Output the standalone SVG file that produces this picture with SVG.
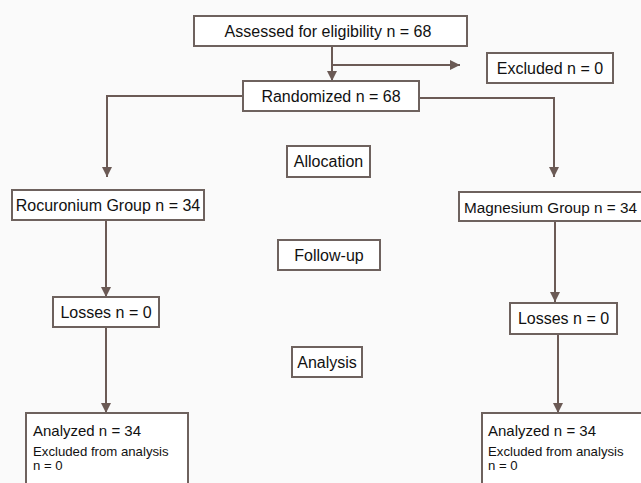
<svg xmlns="http://www.w3.org/2000/svg" width="641" height="483" viewBox="0 0 641 483">
<defs>
<marker id="ah" markerWidth="10" markerHeight="12" refX="10" refY="5" orient="auto" markerUnits="userSpaceOnUse">
<path d="M0,0 L10,5 L0,10 Z" fill="#6b5a55"/>
</marker>
<style>
.box{fill:#ffffff;stroke:#6e625e;stroke-width:2}
.t{font-family:"Liberation Sans",Arial,sans-serif;font-size:16px;fill:#111111}
.a{font-family:"Liberation Sans",Arial,sans-serif;font-size:15px;fill:#111111}
.s{font-family:"Liberation Sans",Arial,sans-serif;font-size:13.2px;fill:#111111}
.c{fill:none;stroke:#6b5a55;stroke-width:2}
</style>
</defs>
<rect width="641" height="483" fill="#fafafa"/>
<g id="connectors">
<path class="c" d="M332,46 V81" marker-end="url(#ah)"/>
<path class="c" d="M332,65 H460" marker-end="url(#ah)"/>
<path class="c" d="M243,96 H107 V177" marker-end="url(#ah)"/>
<path class="c" d="M419,98 H554 V177" marker-end="url(#ah)"/>
<path class="c" d="M106,220 V297" marker-end="url(#ah)"/>
<path class="c" d="M555,221 V302" marker-end="url(#ah)"/>
<path class="c" d="M106,327 V413" marker-end="url(#ah)"/>
<path class="c" d="M558,334 V413" marker-end="url(#ah)"/>
</g>
<g id="assessed"><rect class="box" x="194" y="16" width="273" height="30"/><text class="t" x="328" y="37" text-anchor="middle">Assessed for eligibility n = 68</text></g>
<g id="excluded"><rect class="box" x="487" y="53" width="126" height="30"/><text class="t" x="550" y="74" text-anchor="middle">Excluded n = 0</text></g>
<g id="randomized"><rect class="box" x="243" y="81" width="176" height="30"/><text class="t" x="331" y="102" text-anchor="middle">Randomized n = 68</text></g>
<g id="allocation"><rect class="box" x="287" y="146" width="83" height="31"/><text class="t" x="328.5" y="167" text-anchor="middle">Allocation</text></g>
<g id="followup"><rect class="box" x="278" y="240" width="102" height="30"/><text class="t" x="329" y="261" text-anchor="middle">Follow-up</text></g>
<g id="analysis"><rect class="box" x="292" y="347" width="70" height="30"/><text class="t" x="327" y="368" text-anchor="middle">Analysis</text></g>
<g id="rocuronium"><rect class="box" x="12" y="190" width="192" height="30"/><text class="t" x="108" y="211" text-anchor="middle">Rocuronium Group n = 34</text></g>
<g id="magnesium"><rect class="box" x="459" y="192" width="190" height="29"/><text class="t" x="464" y="212.5" style="font-size:15.3px">Magnesium Group n = 34</text></g>
<g id="losses-left"><rect class="box" x="53" y="297" width="106" height="30"/><text class="t" x="106" y="318" text-anchor="middle">Losses n = 0</text></g>
<g id="losses-right"><rect class="box" x="510" y="303" width="107" height="31"/><text class="t" x="563.5" y="324" text-anchor="middle">Losses n = 0</text></g>
<g id="analyzed-left"><rect class="box" x="26" y="413" width="162" height="80"/><text class="a" x="33" y="436">Analyzed n = 34</text><text class="s" x="33" y="456">Excluded from analysis</text><text class="s" x="33" y="470"> n = 0</text></g>
<g id="analyzed-right"><rect class="box" x="482" y="413" width="170" height="80"/><text class="a" x="488" y="436">Analyzed n = 34</text><text class="s" x="488" y="456">Excluded from analysis</text><text class="s" x="488" y="470"> n = 0</text></g>
</svg>
